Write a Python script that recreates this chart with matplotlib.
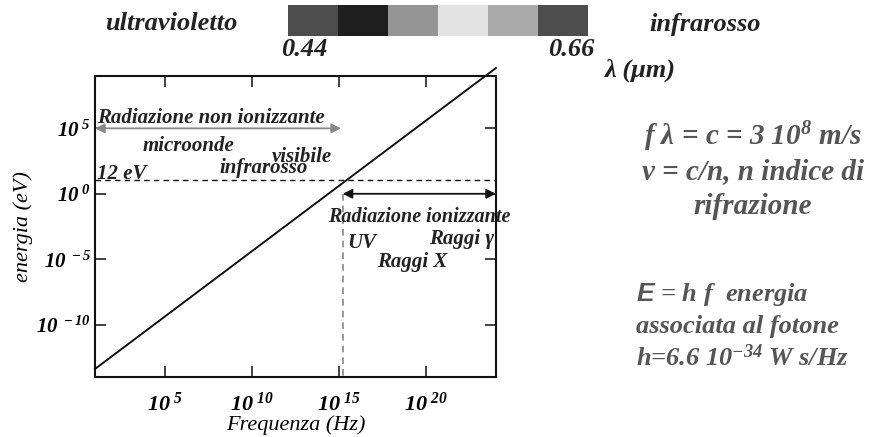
import numpy as np
import matplotlib.pyplot as plt

# dati del grafico
freq = [1e1, 1e24]            # Hz
energia = [4.1e-14, 4.1e9]    # eV  (E = h f)
xticks = [1e5, 1e10, 1e15, 1e20]
xlabels = [r'$10^{\ 5}$', r'$10^{\ 10}$', r'$10^{\ 15}$', r'$10^{\ 20}$']
yticks = [1e5, 1e0, 1e-5, 1e-10]
ylabels = [r'$10^{\ 5}$', r'$10^{\ 0}$', r'$10^{\ -5}$', r'$10^{\ -10}$']
e_soglia = 12          # eV
f_soglia = 1.6e15      # Hz
grigi = ['#4d4d4d', '#1e1e1e', '#959595', '#e3e3e3', '#ababab', '#4d4d4d']

W, H = 872, 437
plt.rcParams['font.family'] = 'Liberation Serif'
plt.rcParams['font.weight'] = 'bold'
plt.rcParams['font.style'] = 'italic'
plt.rcParams['mathtext.fontset'] = 'custom'
plt.rcParams['mathtext.rm'] = 'Liberation Serif:bold:italic'
plt.rcParams['mathtext.it'] = 'Liberation Serif:bold:italic'
plt.rcParams['mathtext.bf'] = 'Liberation Serif:bold:italic'
plt.rcParams['mathtext.sf'] = 'Liberation Sans:bold:italic'

fig = plt.figure(figsize=(W / 100, H / 100), dpi=100)


def px(x0, y0, x1, y1):
    return [x0 / W, 1 - y1 / H, (x1 - x0) / W, (y1 - y0) / H]


def testo(x, y, s, **kw):
    fig.text(x / W, 1 - y / H, s, **kw)


# grafico principale
ax = fig.add_axes(px(95, 76, 496, 377))
ax.set_xscale('log')
ax.set_yscale('log')
ax.set_xlim(1e1, 1e24)
ax.set_ylim(1e-14, 1e9)
ax.plot(freq, energia, color='#111111', lw=1.4, clip_on=False)
ax.plot([1e1, 1e24], [e_soglia, e_soglia], color='#111111', lw=1, ls=(0, (4, 3)))
ax.plot([f_soglia, f_soglia], [1e0, 1e-14], color='#888888', lw=1.2, ls=(0, (4, 3)))

ax.annotate('', xy=(1e1, 1e5), xytext=(1.3e15, 1e5),
            arrowprops=dict(arrowstyle='<|-|>', color='#888888', lw=1.3, mutation_scale=14,
                            shrinkA=0, shrinkB=0))
ax.annotate('', xy=(f_soglia, 1e0), xytext=(1e24, 1e0),
            arrowprops=dict(arrowstyle='<|-|>', color='#111111', lw=1.3, mutation_scale=14,
                            shrinkA=0, shrinkB=0))

ax.set_xticks(xticks)
ax.set_xticklabels(xlabels, fontsize=16)
ax.set_yticks(yticks)
ax.set_yticklabels(ylabels, fontsize=15)
ax.minorticks_off()
ax.tick_params(direction='in', length=8, width=1.2, top=True, right=True, color='#222222')
ax.tick_params(axis='x', pad=11)
ax.tick_params(axis='y', pad=3)
for s in ax.spines.values():
    s.set_linewidth(1.5)
    s.set_color('#111111')
ax.set_xlabel('Frequenza (Hz)', fontsize=16, labelpad=0)
ax.set_ylabel('energia (eV)', fontsize=16, labelpad=2)

c = '#222222'
testo(97, 118, 'Radiazione non ionizzante', fontsize=15, color=c, va='center')
testo(188, 146, 'microonde', fontsize=15, color=c, ha='center', va='center')
testo(302, 157, 'visibile', fontsize=15, color=c, ha='center', va='center')
testo(264, 168, 'infrarosso', fontsize=15, color=c, ha='center', va='center')
testo(97, 174, '12 eV', fontsize=15, color=c, va='center')
testo(419, 217, 'Radiazione ionizzante', fontsize=14.5, color=c, ha='center', va='center')
testo(362, 243, 'UV', fontsize=15, color=c, ha='center', va='center')
testo(462, 239, 'Raggi γ', fontsize=15, color=c, ha='center', va='center')
testo(412, 262, 'Raggi X', fontsize=15, color=c, ha='center', va='center')

# barra dei colori visibili
axb = fig.add_axes(px(288, 5, 588, 36))
axb.bar(np.arange(len(grigi)), 1, width=1, color=grigi, align='edge')
axb.set_xlim(0, len(grigi))
axb.set_ylim(0, 1)
axb.axis('off')

testo(171, 24, 'ultravioletto', fontsize=19, color=c, ha='center', va='center')
testo(705, 24, 'infrarosso', fontsize=19, color=c, ha='center', va='center')
testo(304, 50, '0.44', fontsize=19, color=c, ha='center', va='center')
testo(571, 49, '0.66', fontsize=19, color=c, ha='center', va='center')
testo(640, 70, 'λ (μm)', fontsize=19, color=c, ha='center', va='center')

# formule a destra
g = '#555555'
testo(753, 137, r'f λ = c = 3 10$^{8}$ m/s', fontsize=21, color=g, ha='center', va='center')
testo(753, 172, 'v = c/n, n indice di', fontsize=21, color=g, ha='center', va='center')
testo(753, 206, 'rifrazione', fontsize=21, color=g, ha='center', va='center')
testo(636, 294, r'$\mathsf{E}$ = h f  energia', fontsize=19, color=g, va='center')
testo(636, 326, 'associata al fotone', fontsize=19, color=g, va='center')
testo(636, 358, r'h=6.6 10$^{-34}$ W s/Hz', fontsize=19, color=g, va='center')

plt.savefig('out.png', dpi=100)
